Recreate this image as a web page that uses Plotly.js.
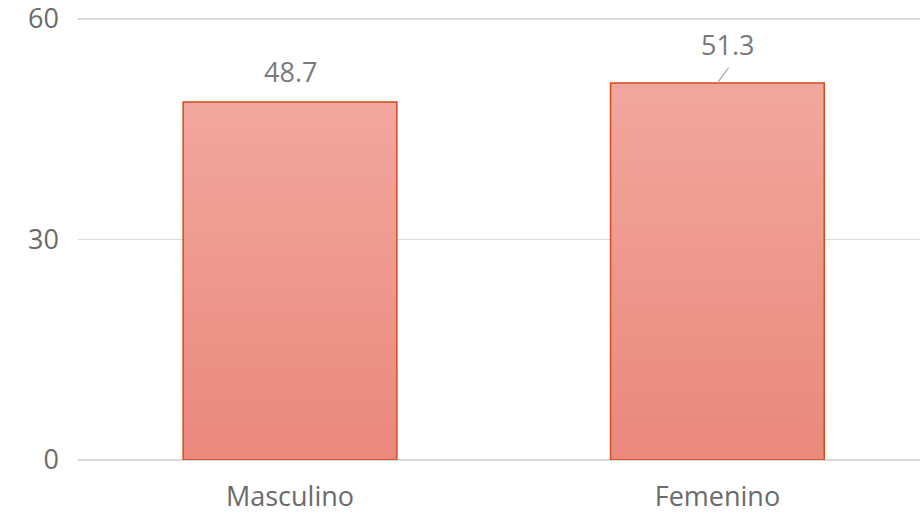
<!DOCTYPE html>
<html>
<head>
<meta charset="utf-8">
<script src="https://cdn.plot.ly/plotly-3.0.1.min.js"></script>
<style>html,body{margin:0;padding:0;background:#fff;}#chart{width:920px;height:516px;}</style>
</head>
<body>
<div id="chart"></div>
<script>
const categories = ["Masculino", "Femenino"];
const values = [48.7, 51.3];
const labels = ["48.7", "51.3"];
const yTicks = [0, 30, 60];

const trace = {
  type: "bar",
  x: categories,
  y: values,
  marker: { color: "#ee978c", line: { color: "#d24a1e", width: 1.5 } },
  hoverinfo: "skip"
};

const lblFont = { family: "Open Sans, sans-serif", size: 27, color: "#7a7a7a" };
const annotations = [
  { x: categories[0], y: values[0], text: labels[0], showarrow: false, yanchor: "bottom", yshift: 10, font: lblFont },
  { x: categories[1], y: values[1], text: labels[1], showarrow: false, yanchor: "bottom", yshift: 18, xshift: 10, font: lblFont }
];

const shapes = [
  { type: "line", xref: "x", yref: "y", x0: 1, x1: 1.026, y0: values[1], y1: values[1] + 2.05,
    line: { color: "#a6a6a6", width: 1.2 } }
];

const layout = {
  width: 920, height: 516,
  margin: { l: 78, r: 0, t: 18, b: 56 },
  paper_bgcolor: "#fff", plot_bgcolor: "#fff",
  showlegend: false,
  bargap: 0.5,
  font: { family: "Open Sans, sans-serif", size: 27, color: "#6b6b6b" },
  xaxis: { range: [-0.496, 1.474], showgrid: false, showline: false, ticks: "", ticklabelstandoff: 18,
    tickfont: { size: 27, color: "#6b6b6b" } },
  yaxis: { range: [0, 60.14], tickvals: yTicks, ticktext: yTicks.map(String), showgrid: true,
    gridcolor: "#d9d9d9", gridwidth: 1.5, zeroline: true, zerolinecolor: "#d9d9d9", zerolinewidth: 1.5,
    showline: false, ticks: "", ticklabelstandoff: 18, ticklabeloverflow: "allow",
    tickfont: { size: 27, color: "#6b6b6b" } },
  annotations: annotations,
  shapes: shapes
};

function addGradient(gd) {
  const svg = gd.querySelector("svg.main-svg");
  if (!svg) return;
  let defs = svg.querySelector("defs");
  if (!defs) { defs = document.createElementNS("http://www.w3.org/2000/svg", "defs"); svg.insertBefore(defs, svg.firstChild); }
  if (!svg.querySelector("#barGrad")) {
    const g = document.createElementNS("http://www.w3.org/2000/svg", "linearGradient");
    g.setAttribute("id", "barGrad");
    g.setAttribute("x1", "0"); g.setAttribute("y1", "0"); g.setAttribute("x2", "0"); g.setAttribute("y2", "1");
    [["0", "#f2a79e"], ["1", "#ea887b"]].forEach(([o, c]) => {
      const s = document.createElementNS("http://www.w3.org/2000/svg", "stop");
      s.setAttribute("offset", o); s.setAttribute("stop-color", c); g.appendChild(s);
    });
    defs.appendChild(g);
  }
  gd.querySelectorAll(".bars .point path").forEach(p => { p.style.fill = "url(#barGrad)"; });
}

Plotly.newPlot("chart", [trace], layout, { displayModeBar: false, staticPlot: true }).then(gd => {
  addGradient(gd);
  gd.on("plotly_afterplot", () => addGradient(gd));
});
</script>
</body>
</html>
